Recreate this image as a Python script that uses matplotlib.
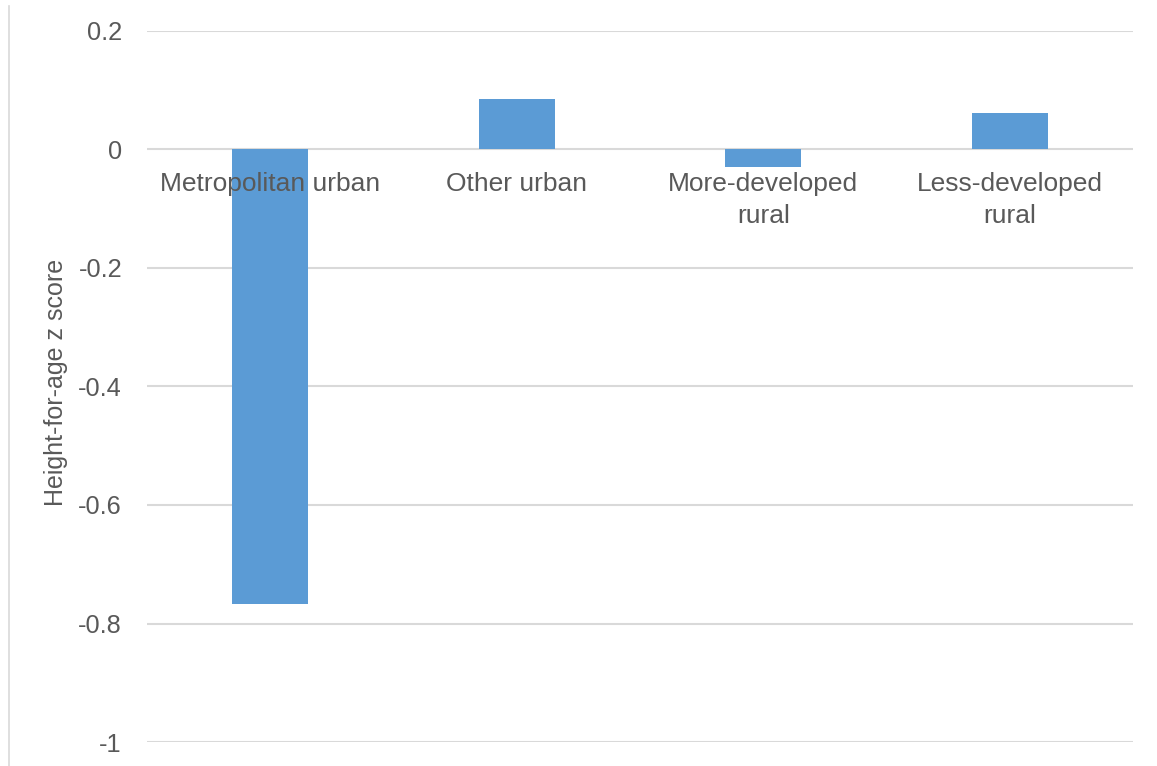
import matplotlib.pyplot as plt
import matplotlib.transforms as mtransforms
from matplotlib.lines import Line2D

# data
regions = ["Metropolitan urban", "Other urban", "More-developed\nrural", "Less-developed\nrural"]
haz = [-0.767, 0.086, -0.029, 0.062]
yticks = [0.2, 0, -0.2, -0.4, -0.6, -0.8, -1]
ytick_labels = ["0.2", "0", "-0.2", "-0.4", "-0.6", "-0.8", "-1"]

plt.rcParams['font.family'] = ['Liberation Sans', 'DejaVu Sans']
grey = "#595959"

fig = plt.figure(figsize=(11.57, 7.66), dpi=100)
ax = fig.add_axes([147/1157, 1-742/766, (1133-147)/1157, (742-31)/766])

x = list(range(len(regions)))
ax.bar(x, haz, width=0.31, color="#5b9bd5", zorder=2)

ax.set_xlim(-0.5, len(regions)-0.5)
ax.set_ylim(-1, 0.2)
ax.set_yticks(yticks)
ax.set_yticklabels(ytick_labels)
ax.yaxis.grid(True, color="#d9d9d9", linewidth=1.5, zorder=0)
ax.set_axisbelow(True)
ax.tick_params(axis='y', length=0, pad=18, labelsize=18.3, labelcolor=grey)
ax.set_xticks([])
for s in ax.spines.values():
    s.set_visible(False)

# category labels just below the zero line
trans = mtransforms.offset_copy(ax.transData, fig=fig, y=-23, units='dots')
for i, lab in enumerate(regions):
    ax.text(i, 0, lab, transform=trans, ha='center', va='top', fontsize=19,
            color=grey, linespacing=1.4, zorder=3)

ax.set_ylabel("Height-for-age z score", fontsize=18, color=grey)
ax.yaxis.set_label_coords((68-147)/986, (742-382)/711)

# chart border remnant on the left
fig.add_artist(Line2D([9/1157, 9/1157], [0, 1-6/766], transform=fig.transFigure,
                      color="#d9d9d9", linewidth=1.2))

fig.savefig("out.png", dpi=100)
